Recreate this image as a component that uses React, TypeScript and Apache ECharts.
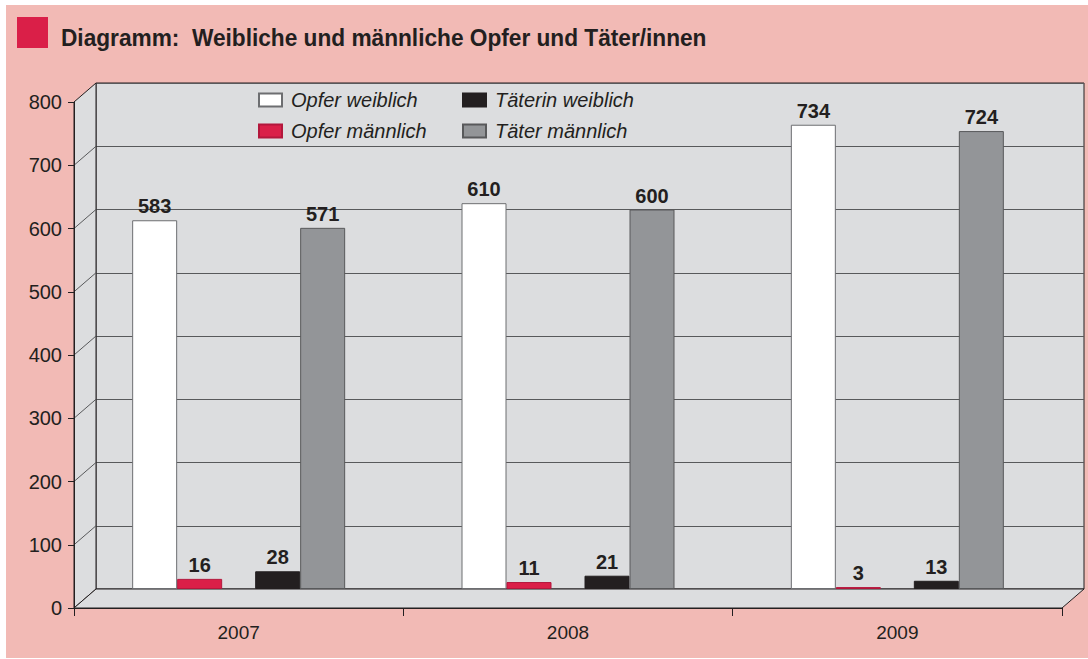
import React, { useEffect, useRef } from "react";
import * as echarts from "echarts";

const categories = ["2007", "2008", "2009"];
const opferWeiblich = [583, 610, 734];
const opferMaennlich = [16, 11, 3];
const taeterinWeiblich = [28, 21, 13];
const taeterMaennlich = [571, 600, 724];
const yMax = 800;
const yStep = 100;

const TITLE = "Diagramm:  Weibliche und männliche Opfer und Täter/innen";
const FONT = '"Liberation Sans Narrow", "Arial Narrow", "Liberation Sans", sans-serif';
const INK = "#231F20";
const WALL = "#DCDDDF";

const W = 1088;
const H = 659;
const FRONT = { left: 74, right: 1062, top: 102, bottom: 608 };
const BACK = { left: 96, right: 1084, top: 83, bottom: 589 };

export default function App() {
  const ref = useRef<HTMLDivElement>(null);
  useEffect(() => {
    document.body.style.margin = "0";
    const chart = echarts.init(ref.current!, null, { renderer: "svg" });
    const barStyle = (color: string, border: string) => ({ color, borderColor: border, borderWidth: 1 });
    const labelStyle = {
      show: true,
      position: "top",
      distance: 4,
      fontFamily: FONT,
      fontWeight: "bold",
      fontSize: 20,
      color: INK,
    };
    const mkSeries = (name: string, data: (number | null)[], color: string, border: string, width = 45) => ({
      type: "bar",
      name,
      data,
      xAxisIndex: 1,
      yAxisIndex: 1,
      barWidth: width,
      barGap: "0%",
      itemStyle: barStyle(color, border),
      label: labelStyle,
      emphasis: { disabled: true },
    });
    const legendItem = (name: string, left: number, top: number) => ({
      data: [name],
      left,
      top,
      padding: 0,
      itemWidth: 23,
      itemHeight: 13,
      icon: "rect",
      selectedMode: false,
      textStyle: {
        fontFamily: FONT,
        fontStyle: "italic",
        fontSize: 20,
        color: INK,
        padding: [0, 0, 0, 4],
      },
    });
    const option: any = {
      animation: false,
      grid: [
        {
          left: BACK.left,
          top: BACK.top,
          width: BACK.right - BACK.left,
          height: BACK.bottom - BACK.top,
          show: true,
          backgroundColor: WALL,
          borderColor: INK,
          borderWidth: 1,
        },
        {
          left: FRONT.left,
          top: BACK.top,
          width: FRONT.right - FRONT.left,
          height: BACK.bottom - BACK.top,
        },
        {
          left: FRONT.left,
          top: FRONT.top,
          width: FRONT.right - FRONT.left,
          height: FRONT.bottom - FRONT.top,
        },
      ],
      xAxis: [
        { type: "value", gridIndex: 0, show: false, min: 0, max: 1 },
        { type: "category", gridIndex: 1, show: false, data: categories },
        {
          type: "category",
          gridIndex: 2,
          data: categories,
          boundaryGap: true,
          axisLine: { show: true, lineStyle: { color: INK, width: 1 } },
          axisTick: { show: true, length: 8, lineStyle: { color: INK } },
          axisLabel: { fontFamily: FONT, fontSize: 19, color: INK, margin: 15 },
        },
      ],
      yAxis: [
        {
          type: "value",
          gridIndex: 0,
          min: 0,
          max: yMax,
          interval: yStep,
          axisLine: { show: false },
          axisTick: { show: false },
          axisLabel: { show: false },
          splitLine: { show: true, lineStyle: { color: "#58595B", width: 1 } },
        },
        { type: "value", gridIndex: 1, min: 0, max: yMax, interval: yStep, show: false },
        {
          type: "value",
          gridIndex: 2,
          min: 0,
          max: yMax,
          interval: yStep,
          axisLine: { show: true, lineStyle: { color: INK, width: 1 } },
          axisTick: { show: true, length: 6, lineStyle: { color: INK } },
          axisLabel: { fontFamily: FONT, fontSize: 20, color: INK, margin: 12 },
          splitLine: { show: false },
        },
      ],
      legend: [
        legendItem("Opfer weiblich", 258, 90),
        legendItem("Täterin weiblich", 462, 90),
        legendItem("Opfer männlich", 258, 121),
        legendItem("Täter männlich", 462, 121),
      ],
      series: [
        mkSeries("Opfer weiblich", opferWeiblich, "#FFFFFF", "#6D6E71"),
        mkSeries("Opfer männlich", opferMaennlich, "#DA1F48", "#B3173C"),
        mkSeries("gap", [null, null, null], "transparent", "transparent", 33),
        mkSeries("Täterin weiblich", taeterinWeiblich, INK, INK),
        mkSeries("Täter männlich", taeterMaennlich, "#939598", "#58595B"),
      ],
    };
    chart.setOption(option);

    const graphics: any[] = [
      { type: "rect", shape: { x: 17, y: 17, width: 31, height: 31 }, style: { fill: "#DA1F48" } },
      {
        type: "text",
        x: 61,
        y: 38,
        scaleX: 0.945,
        style: {
          text: TITLE,
          fontFamily: FONT,
          fontWeight: "bold",
          fontSize: 24,
          fill: INK,
          verticalAlign: "middle",
        },
      },
      {
        type: "polygon",
        shape: {
          points: [
            [FRONT.left, FRONT.top],
            [BACK.left, BACK.top],
            [BACK.left, BACK.bottom],
            [FRONT.left, FRONT.bottom],
          ],
        },
        style: { fill: WALL, stroke: INK, lineWidth: 1 },
      },
      {
        type: "polygon",
        shape: {
          points: [
            [FRONT.left, FRONT.bottom],
            [BACK.left, BACK.bottom],
            [BACK.right, BACK.bottom],
            [FRONT.right, FRONT.bottom],
          ],
        },
        style: { fill: WALL, stroke: INK, lineWidth: 1 },
      },
    ];
    for (let v = yStep; v < yMax; v += yStep) {
      const yF = chart.convertToPixel({ yAxisIndex: 2 }, v) as number;
      const yB = chart.convertToPixel({ yAxisIndex: 0 }, v) as number;
      graphics.push({
        type: "line",
        shape: { x1: FRONT.left, y1: yF, x2: BACK.left, y2: yB },
        style: { stroke: "#58595B", lineWidth: 1 },
      });
    }
    chart.setOption({ graphic: graphics });
    return () => chart.dispose();
  }, []);
  return (
    <div style={{ position: "relative", width: W, height: H, background: "#FFFFFF" }}>
      <div style={{ position: "absolute", left: 6, top: 5, right: 0, bottom: 1, background: "#F2BAB5" }} />
      <div ref={ref} style={{ position: "absolute", left: 0, top: 0, width: W, height: H }} />
    </div>
  );
}
